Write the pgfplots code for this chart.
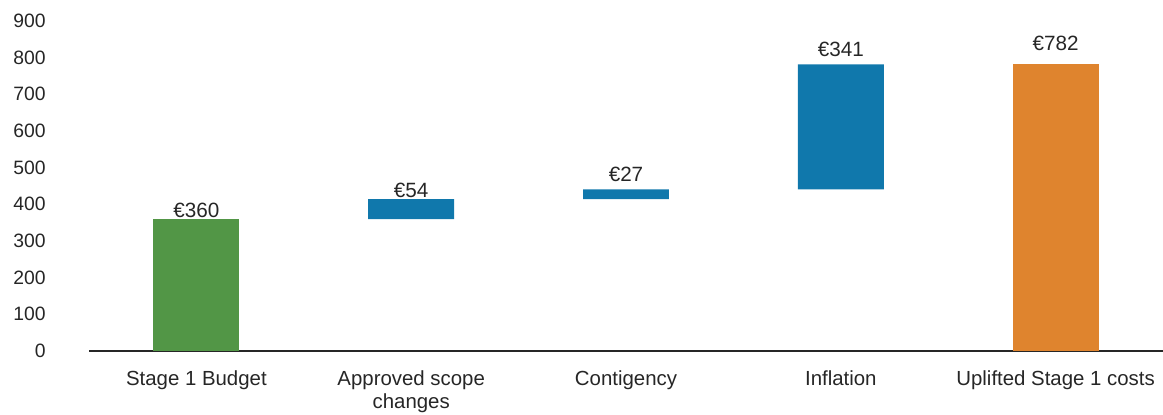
\documentclass[border=0pt]{standalone}
\usepackage{pgfplots}
\pgfplotsset{compat=1.18}
\usepackage{fontspec}
\setmainfont{Liberation Sans}
\definecolor{cgreen}{RGB}{82,150,70}
\definecolor{cblue}{RGB}{16,120,172}
\definecolor{corange}{RGB}{223,132,46}
\begin{document}
\begin{tikzpicture}
\begin{axis}[
  at={(66.75pt,47.25pt)}, anchor=south west,
  scale only axis, width=805.5pt, height=247.5pt,
  ybar stacked, bar width=0.4,
  xmin=-0.5, xmax=4.5, ymin=0, ymax=900,
  ytick={0,100,...,900},
  xtick={0,1,2,3,4},
  xticklabels={Stage 1 Budget,{Approved scope\\changes},Contigency,Inflation,Uplifted Stage 1 costs},
  axis x line*=bottom, axis y line*=left,
  x axis line style={draw=black!85, line width=1.4pt},
  y axis line style={draw=none},
  tick style={draw=none},
  /pgf/number format/assume math mode=true,
  yticklabel style={font=\fontsize{14.5}{17}\selectfont, text=black!85, xshift=-29pt},
  xticklabel style={font=\fontsize{15.3}{17.8}\selectfont, text=black!85, align=center, yshift=-11pt},
  clip=false,
]
\addplot[draw=none, fill=none] coordinates {(0,0) (1,360) (2,414) (3,441) (4,0)};
\addplot[draw=none, fill=cgreen] coordinates {(0,360) (1,0) (2,0) (3,0) (4,0)};
\addplot[draw=none, fill=cblue] coordinates {(0,0) (1,54) (2,27) (3,341) (4,0)};
\addplot[draw=none, fill=corange] coordinates {(0,0) (1,0) (2,0) (3,0) (4,782)};
\addplot[draw=none, fill=none, point meta=explicit symbolic, nodes near coords,
  every node near coord/.append style={font=\fontsize{15.5}{18}\selectfont, text=black!85, anchor=south, inner sep=1pt}]
  coordinates {(0,0.01)[€360] (1,0.01)[\raisebox{-1.5pt}{€54}] (2,0.01)[\raisebox{4.5pt}{€27}] (3,0.01)[\raisebox{4.5pt}{€341}] (4,0.01)[\raisebox{9pt}{€782}]};
\end{axis}
\pgfresetboundingbox
\useasboundingbox (0,0) rectangle (872.25pt,310.5pt);
\end{tikzpicture}
\end{document}
